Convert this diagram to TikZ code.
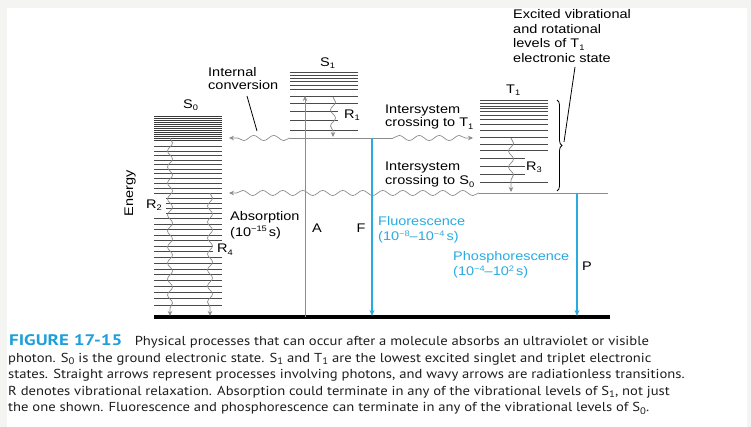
\documentclass[tikz,border=0pt]{standalone}
\usepackage{fontspec}
\usetikzlibrary{decorations.pathmorphing,decorations.pathreplacing,arrows.meta}
\newfontfamily\dfont{Liberation Sans}[FakeStretch=1.16]
\newfontfamily\capfont{PT Sans}[FakeStretch=1.125]
\newfontfamily\figfont{PT Sans}[FakeStretch=1.24]
\definecolor{cy}{HTML}{29ABE2}
\definecolor{capblue}{HTML}{1E9FDA}
\definecolor{lvl}{HTML}{4A4A4A}
\definecolor{lvld}{HTML}{3A3A3A}
\definecolor{wv}{HTML}{8C8C8C}
\definecolor{bgg}{HTML}{F4F4F2}
\definecolor{captext}{HTML}{1E1E1E}
\newcommand\lsub[1]{\raisebox{-2.5pt}{\fontsize{8}{8}\selectfont #1}}
\newcommand\usup[1]{\raisebox{4.5pt}{\fontsize{8}{8}\selectfont #1}}
\newcommand\csub[1]{\raisebox{-2.5pt}{\fontsize{9.5}{9.5}\selectfont #1}}
\begin{document}
\begin{tikzpicture}[x=1pt,y=-1pt,
  lbl/.style={font=\dfont\fontsize{12.5}{14}\selectfont, inner sep=0pt, anchor=base west},
  ltr/.style={font=\dfont\fontsize{12.5}{14}\selectfont, inner sep=0pt, anchor=center},
  blbl/.style={lbl, text=cy},
  captxt/.style={font=\capfont\fontsize{13}{16.5}\selectfont, text=captext, inner sep=0pt, anchor=base west},
  lev/.style={draw=lvl, line width=0.8pt},
  levd/.style={draw=lvld, line width=0.55pt},
  tipg/.style={-{Stealth[length=5pt,width=4.5pt]}},
  wavy/.style={draw=wv, line width=0.7pt, tipg, decorate,
    decoration={snake, amplitude=2.6pt, segment length=20pt, post length=5pt}},
  vwavy/.style={draw=wv, line width=0.7pt, tipg, decorate,
    decoration={snake, amplitude=2.5pt, segment length=16pt, post length=5pt}},
  straightg/.style={draw=wv, line width=0.8pt},
  bluearr/.style={draw=cy, line width=1.1pt, -{Stealth[length=6pt,width=5pt]}},
]
\useasboundingbox (0,0) rectangle (751,427);
\fill[bgg] (0,0) rectangle (751,427);
\fill[white] (7,8) rectangle (747,427);

% ---- S0 levels
\foreach \k in {0,...,12}{
  \pgfmathsetmacro\yy{116+2.0*\k}
  \draw[levd] (154,\yy) -- (222,\yy);
}
\foreach \k in {0,...,30}{
  \pgfmathsetmacro\yy{305-6.2*\k+0.0306*\k*\k}
  \pgfmathsetmacro\xa{ifthenelse(and(\yy>197,\yy<214),166,154)}
  \pgfmathsetmacro\xb{ifthenelse(and(\yy>241,\yy<257),213,222)}
  \draw[lev] (\xa,\yy) -- (\xb,\yy);
}
% ---- S1 levels
\foreach \yy/\xb in {72.5/358,75.5/358,78.5/358,81.5/358,85/358,89.5/358,96/358,103.5/358,111.5/338,120/338,130/358}{
  \draw[lev] (290,\yy) -- (\xb,\yy);
}
% ---- T1 levels
\foreach \yy/\xb in {100.7/548,103.3/548,106/548,108.7/548,111.7/548,115/548,119.3/548,124/548,130/548,137.3/548,144/548,150.7/548,158.3/525,166/525,174/525,182.7/548}{
  \draw[lev] (480,\yy) -- (\xb,\yy);
}

% ---- ground line
\coordinate (gL) at (154,317);
\coordinate (gR) at (610,317);
\draw[black, line width=3.5pt] (gL) -- (gR);

% ---- coordinates
\coordinate (s1L) at (290,138);
\coordinate (s1R) at (393,138);
\coordinate (icEnd) at (229,138);
\coordinate (iscT) at (473,138);
\coordinate (t1L) at (479,193);
\coordinate (t1R) at (608,193);
\coordinate (iscS) at (229,193);
\coordinate (aBot) at (305,317);
\coordinate (aTop) at (305,96);
\coordinate (fTop) at (372,138);
\coordinate (fBot) at (372,316);
\coordinate (pTop) at (577,193);
\coordinate (pBot) at (577,316);
\coordinate (r1a) at (333,97);
\coordinate (r1b) at (333,137);
\coordinate (r3a) at (511,138);
\coordinate (r3b) at (511,192);
\coordinate (r2a) at (170,138);
\coordinate (r2b) at (170,316);
\coordinate (r4a) at (210,193);
\coordinate (r4b) at (210,316);

% ---- S1 ground and transitions
\draw[straightg] (s1L) -- (s1R);
\draw[wavy] (s1L) -- (icEnd);
\draw[wavy] (s1R) -- (iscT);
\draw[straightg] (t1L) -- (t1R);
\draw[wavy] (t1L) -- (iscS);

% ---- vertical relaxations
\draw[vwavy] (r1a) -- (r1b);
\draw[vwavy] (r3a) -- (r3b);
\draw[vwavy] (r2a) -- (r2b);
\draw[vwavy] (r4a) -- (r4b);

% ---- photon arrows
\draw[straightg, tipg] (aBot) -- (aTop);
\draw[bluearr] (fTop) -- (fBot);
\draw[bluearr] (pTop) -- (pBot);

% ---- brace and pointers
\coordinate (brT) at (557,100);
\coordinate (brB) at (557,191);
\draw[black, line width=0.8pt, decorate, decoration={brace, amplitude=5pt}] (brT) -- (brB);
\coordinate (brTip) at (564,142);
\coordinate (exTxt) at (575,67);
\draw[black, line width=0.8pt] (brTip) -- (exTxt);
\coordinate (icA) at (247,96);
\coordinate (icB) at (257,131);
\draw[black, line width=0.8pt] (icA) -- (icB);

% ---- labels
\node[lbl] (lS0) at (183,108.5) {S\lsub{0}};
\node[lbl] (lS1) at (320,66.5) {S\lsub{1}};
\node[lbl] (lT1) at (506,93.5) {T\lsub{1}};
\node[lbl] (lR1) at (344,118.5) {R\lsub{1}};
\node[lbl] (lR2) at (146,208.5) {R\lsub{2}};
\node[lbl] (lR3) at (526,170.5) {R\lsub{3}};
\node[lbl] (lR4) at (217,252.5) {R\lsub{4}};
\node[lbl] (ic1) at (208,76.5) {Internal};
\node[lbl] (ic2) at (208,89.5) {conversion};
\node[lbl] (it1) at (385,114) {Intersystem};
\node[lbl] (it2) at (385,127) {crossing to T\lsub{1}};
\node[lbl] (is1) at (385,171) {Intersystem};
\node[lbl] (is2) at (385,185) {crossing to S\lsub{0}};
\node[lbl] (ab1) at (230,221) {Absorption};
\node[lbl] (ab2) at (230,236.5) {(10\usup{−15}\,s)};
\node[ltr] (lA) at (317,228) {A};
\node[ltr] (lF) at (361,228) {F};
\node[ltr] (lP) at (587,266) {P};
\node[blbl] (fl1) at (378,226) {Fluorescence};
\node[blbl] (fl2) at (378,241) {(10\usup{−8}–10\usup{−4}\,s)};
\node[blbl] (ph1) at (453,261) {Phosphorescence};
\node[blbl] (ph2) at (453,276) {(10\usup{−4}–10\usup{2}\,s)};
\node[lbl] (ex1) at (513,18.5) {Excited vibrational};
\node[lbl] (ex2) at (513,33.5) {and rotational};
\node[lbl] (ex3) at (513,48) {levels of T\lsub{1}};
\node[lbl] (ex4) at (513,63) {electronic state};
\node[ltr, rotate=90] (en) at (130,193.5) {Energy};

% ---- caption
\node[captxt] (c1) at (9,345.5) {{\figfont\bfseries\fontsize{15.3}{16.5}\selectfont\color{capblue}FIGURE 17-15}\hspace{0.95em}Physical processes that can occur after a molecule absorbs an ultraviolet or visible};
\node[captxt] (c2) at (8,362) {photon. S\csub{0} is the ground electronic state. S\csub{1} and T\csub{1} are the lowest excited singlet and triplet electronic};
\node[captxt] (c3) at (8,378.5) {states. Straight arrows represent processes involving photons, and wavy arrows are radiationless transitions.};
\node[captxt] (c4) at (8,395) {R denotes vibrational relaxation. Absorption could terminate in any of the vibrational levels of S\csub{1}, not just};
\node[captxt] (c5) at (8,411.5) {the one shown. Fluorescence and phosphorescence can terminate in any of the vibrational levels of S\csub{0}.};
\end{tikzpicture}
\end{document}
